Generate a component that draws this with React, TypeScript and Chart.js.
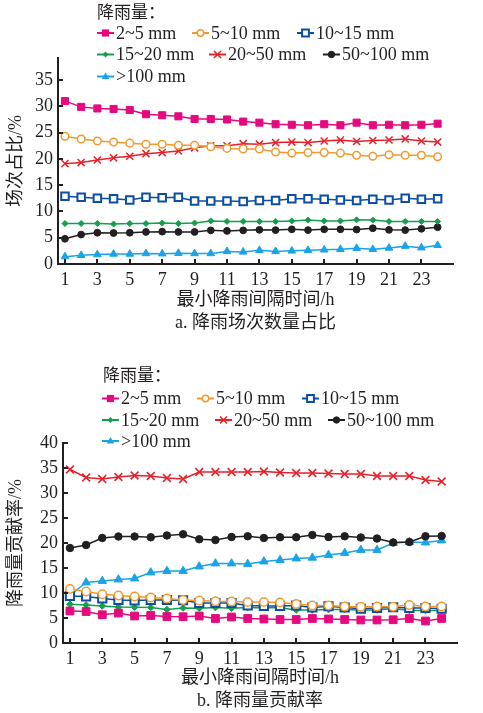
import React, { useEffect, useRef } from "react";
import { Chart, registerables } from "chart.js";

Chart.register(...registerables);

// ---------- data ----------
const intervals = [1, 2, 3, 4, 5, 6, 7, 8, 9, 10, 11, 12, 13, 14, 15, 16, 17, 18, 19, 20, 21, 22, 23, 24];
const xTickLabels = [1, 3, 5, 7, 9, 11, 13, 15, 17, 19, 21, 23];
const yTicksA = [0, 5, 10, 15, 20, 25, 30, 35];
const yTicksB = [0, 5, 10, 15, 20, 25, 30, 35, 40];

const seriesNames = ["2~5 mm", "5~10 mm", "10~15 mm", "15~20 mm", "20~50 mm", "50~100 mm", ">100 mm"];

// a. 降雨场次数量占比 (%)
const countShare_2_5 = [31.0, 29.9, 29.6, 29.5, 29.3, 28.5, 28.3, 28.1, 27.6, 27.6, 27.5, 27.1, 26.9, 26.6, 26.5, 26.4, 26.6, 26.4, 26.9, 26.4, 26.5, 26.4, 26.5, 26.7];
const countShare_5_10 = [24.3, 23.8, 23.4, 23.2, 23.0, 22.8, 22.8, 22.6, 22.6, 22.3, 22.0, 21.9, 21.9, 21.3, 21.1, 21.2, 21.2, 21.1, 20.7, 20.5, 20.8, 20.7, 20.7, 20.4];
const countShare_10_15 = [12.9, 12.7, 12.5, 12.4, 12.2, 12.7, 12.6, 12.7, 12.0, 12.0, 12.0, 11.9, 12.1, 12.1, 12.4, 12.4, 12.3, 12.2, 12.1, 12.3, 12.2, 12.5, 12.3, 12.4];
const countShare_15_20 = [7.7, 7.7, 7.7, 7.6, 7.7, 7.7, 7.8, 7.7, 7.8, 8.2, 8.1, 8.1, 8.1, 8.1, 8.2, 8.35, 8.2, 8.2, 8.4, 8.35, 8.1, 8.1, 8.1, 8.1];
const countShare_20_50 = [19.1, 19.3, 19.8, 20.2, 20.5, 21.0, 21.2, 21.5, 22.1, 22.5, 22.5, 22.9, 22.8, 23.1, 23.2, 23.1, 23.4, 23.6, 23.3, 23.5, 23.6, 23.8, 23.4, 23.2];
const countShare_50_100 = [4.8, 5.6, 5.95, 5.9, 5.95, 6.1, 6.15, 6.1, 6.1, 6.4, 6.3, 6.4, 6.5, 6.45, 6.6, 6.45, 6.6, 6.6, 6.55, 6.8, 6.5, 6.45, 6.7, 7.0];
const countShare_100 = [1.4, 1.65, 1.8, 1.9, 1.9, 2.0, 1.95, 2.05, 2.0, 2.0, 2.4, 2.3, 2.6, 2.4, 2.5, 2.6, 2.7, 2.8, 3.0, 2.8, 3.05, 3.4, 3.1, 3.55];

// b. 降雨量贡献率 (%)
const contrib_2_5 = [6.4, 6.3, 5.65, 6.0, 5.4, 5.5, 5.3, 5.25, 5.4, 4.9, 5.2, 4.9, 4.8, 4.7, 4.7, 4.9, 4.8, 4.7, 4.6, 4.6, 4.65, 4.9, 4.4, 4.9];
const contrib_5_10 = [10.8, 10.3, 9.75, 9.5, 9.3, 9.1, 8.9, 8.6, 8.5, 8.35, 8.3, 8.2, 8.2, 8.1, 7.8, 7.5, 7.5, 7.3, 7.25, 7.3, 7.25, 7.6, 7.3, 7.3];
const contrib_10_15 = [9.4, 9.3, 8.9, 8.6, 8.5, 8.6, 8.6, 8.55, 8.0, 8.0, 8.0, 7.5, 7.4, 7.4, 7.5, 7.1, 7.35, 7.1, 6.85, 7.0, 7.15, 7.0, 7.0, 6.85];
const contrib_15_20 = [7.75, 7.6, 7.4, 7.2, 7.15, 7.1, 6.7, 7.0, 6.95, 7.1, 6.95, 7.1, 7.05, 7.05, 6.6, 6.6, 6.7, 6.7, 6.6, 6.6, 6.9, 6.5, 6.5, 6.5];
const contrib_20_50 = [34.7, 33.1, 32.8, 33.2, 33.5, 33.4, 33.0, 32.8, 34.2, 34.2, 34.2, 34.2, 34.3, 34.1, 34.0, 34.0, 33.9, 33.8, 33.8, 33.4, 33.4, 33.4, 32.6, 32.3];
const contrib_50_100 = [19.0, 19.6, 21.0, 21.3, 21.3, 21.15, 21.5, 21.75, 20.75, 20.6, 21.2, 21.35, 21.0, 21.15, 21.15, 21.6, 21.2, 21.35, 21.1, 20.9, 20.1, 20.2, 21.35, 21.4];
const contrib_100 = [9.5, 12.1, 12.4, 12.7, 12.9, 14.1, 14.4, 14.4, 15.3, 15.9, 15.9, 15.8, 16.3, 16.6, 16.9, 17.05, 17.6, 18.0, 18.6, 18.6, 20.0, 20.2, 20.1, 20.5];

// ---------- styles ----------
const AXIS_COLOR = "#231f20";
const SERIF = "'Liberation Serif', 'Times New Roman', serif";
const MIXED = "'Liberation Serif', 'Noto Sans CJK SC', sans-serif";

type SStyle = { color: string; pointStyle: string; radius: number; fill: boolean; pbw: number };
const SERIES_STYLE: SStyle[] = [
  { color: "#e5097f", pointStyle: "rect", radius: 5, fill: true, pbw: 1 },
  { color: "#f39a2e", pointStyle: "circle", radius: 3.8, fill: false, pbw: 1.5 },
  { color: "#0b4ea2", pointStyle: "rect", radius: 5.3, fill: false, pbw: 2 },
  { color: "#12a04b", pointStyle: "rectRot", radius: 3, fill: true, pbw: 1 },
  { color: "#e62129", pointStyle: "crossRot", radius: 5, fill: false, pbw: 1.5 },
  { color: "#231f20", pointStyle: "circle", radius: 3.4, fill: true, pbw: 1 },
  { color: "#1aa3e8", pointStyle: "triangle", radius: 4.4, fill: true, pbw: 1 },
];

function drawLegendMarker(ctx: CanvasRenderingContext2D, s: SStyle, cx: number, cy: number) {
  ctx.save();
  ctx.strokeStyle = s.color;
  ctx.fillStyle = s.fill ? s.color : "#ffffff";
  ctx.lineWidth = s.pbw;
  ctx.beginPath();
  if (s.pointStyle === "rect") {
    const h = s.fill ? 3.6 : 3.4;
    ctx.rect(cx - h, cy - h, 2 * h, 2 * h);
    ctx.fill();
    if (!s.fill) ctx.stroke();
  } else if (s.pointStyle === "circle") {
    ctx.arc(cx, cy, s.fill ? 3.2 : 3.2, 0, Math.PI * 2);
    ctx.fill();
    ctx.stroke();
  } else if (s.pointStyle === "rectRot") {
    const r = 3;
    ctx.moveTo(cx, cy - r);
    ctx.lineTo(cx + r, cy);
    ctx.lineTo(cx, cy + r);
    ctx.lineTo(cx - r, cy);
    ctx.closePath();
    ctx.fill();
  } else if (s.pointStyle === "crossRot") {
    const r = 3.5;
    ctx.moveTo(cx - r, cy - r);
    ctx.lineTo(cx + r, cy + r);
    ctx.moveTo(cx + r, cy - r);
    ctx.lineTo(cx - r, cy + r);
    ctx.stroke();
  } else if (s.pointStyle === "triangle") {
    const r = 4;
    ctx.moveTo(cx, cy - r);
    ctx.lineTo(cx + r * 0.95, cy + r * 0.6);
    ctx.lineTo(cx - r * 0.95, cy + r * 0.6);
    ctx.closePath();
    ctx.fill();
  }
  ctx.restore();
}

type LegendLayout = { title: { x: number; y: number }; items: { x: number; y: number }[] };

function makeLegendPlugin(layout: LegendLayout) {
  return {
    id: "customLegend",
    afterDraw(chart: any) {
      const ctx: CanvasRenderingContext2D = chart.ctx;
      ctx.save();
      ctx.fillStyle = AXIS_COLOR;
      ctx.textBaseline = "middle";
      ctx.textAlign = "left";
      ctx.font = "17px 'Noto Sans CJK SC', sans-serif";
      ctx.fillText("降雨量：", layout.title.x, layout.title.y);
      ctx.font = "18px " + SERIF;
      layout.items.forEach((it, i) => {
        const s = SERIES_STYLE[i];
        ctx.save();
        ctx.strokeStyle = s.color;
        ctx.lineWidth = 2;
        ctx.beginPath();
        ctx.moveTo(it.x, it.y);
        ctx.lineTo(it.x + 17, it.y);
        ctx.stroke();
        ctx.restore();
        drawLegendMarker(ctx, s, it.x + 8.5, it.y);
        ctx.fillStyle = AXIS_COLOR;
        ctx.fillText(seriesNames[i], it.x + 19, it.y + 1);
      });
      ctx.restore();
    },
  };
}

const inwardTicks = {
  id: "inwardTicks",
  afterDatasetsDraw(chart: any) {
    const { ctx, chartArea, scales } = chart;
    const x = scales.x;
    const y = scales.y;
    ctx.save();
    ctx.strokeStyle = AXIS_COLOR;
    ctx.lineWidth = 2;
    ctx.beginPath();
    x.ticks.forEach((t: any) => {
      const px = Math.round(x.getPixelForValue(t.value));
      ctx.moveTo(px, chartArea.bottom);
      ctx.lineTo(px, chartArea.bottom - 5);
    });
    y.ticks.forEach((t: any) => {
      const py = Math.round(y.getPixelForValue(t.value));
      ctx.moveTo(chartArea.left, py);
      ctx.lineTo(chartArea.left + 5, py);
    });
    ctx.stroke();
    ctx.restore();
  },
};

type PanelCfg = {
  top: number;
  height: number;
  padTop: number;
  padRight: number;
  yWidth: number;
  xHeight: number;
  yMax: number;
  yTicks: number[];
  yTitle: string;
  caption: string;
  xTitleBottomPad: number;
  yTitlePad: number;
  markerScale: number;
  series: number[][];
  legend: LegendLayout;
};

function buildConfig(p: PanelCfg): any {
  const datasets = p.series.map((vals, i) => {
    const s = SERIES_STYLE[i];
    return {
      label: seriesNames[i],
      data: vals.map((v, j) => ({ x: intervals[j], y: v })),
      borderColor: s.color,
      backgroundColor: s.fill ? s.color : "#ffffff",
      pointBackgroundColor: s.fill ? s.color : "#ffffff",
      pointBorderColor: s.color,
      pointBorderWidth: s.pbw,
      pointStyle: s.pointStyle,
      pointRadius: s.radius * p.markerScale,
      pointHoverRadius: s.radius * p.markerScale,
      borderWidth: 1.5,
      tension: 0,
      fill: false,
    };
  });
  return {
    type: "line",
    data: { datasets },
    options: {
      animation: false,
      responsive: false,
      devicePixelRatio: 1,
      layout: { padding: { top: p.padTop, right: p.padRight, left: 0, bottom: 0 } },
      plugins: {
        legend: { display: false },
        tooltip: { enabled: false },
        title: { display: false },
      },
      scales: {
        x: {
          type: "linear",
          min: 0.57,
          max: 24.95,
          grid: { display: false, drawTicks: false },
          border: { display: true, width: 2, color: AXIS_COLOR },
          ticks: {
            padding: 5,
            color: AXIS_COLOR,
            font: { family: SERIF, size: 18 },
            autoSkip: false,
            maxRotation: 0,
          },
          afterBuildTicks: (s: any) => {
            s.ticks = xTickLabels.map((v) => ({ value: v }));
          },
          afterFit: (s: any) => {
            s.height = p.xHeight;
          },
          title: {
            display: true,
            text: ["最小降雨间隔时间/h", p.caption],
            color: AXIS_COLOR,
            font: { family: MIXED, size: 18, lineHeight: 23 / 18 },
            padding: { top: 0, bottom: p.xTitleBottomPad },
          },
        },
        y: {
          type: "linear",
          min: 0,
          max: p.yMax,
          grid: { display: false, drawTicks: false },
          border: { display: true, width: 2, color: AXIS_COLOR },
          ticks: {
            padding: 5,
            color: AXIS_COLOR,
            font: { family: SERIF, size: 18 },
          },
          afterBuildTicks: (s: any) => {
            s.ticks = p.yTicks.map((v) => ({ value: v }));
          },
          afterFit: (s: any) => {
            s.width = p.yWidth;
          },
          title: {
            display: true,
            text: p.yTitle,
            color: AXIS_COLOR,
            font: { family: MIXED, size: 18, lineHeight: 1.2 },
            padding: { top: p.yTitlePad, bottom: 0 },
          },
        },
      },
    },
    plugins: [inwardTicks, makeLegendPlugin(p.legend)],
  };
}

const panelA: PanelCfg = {
  top: 0,
  height: 340,
  padTop: 58,
  padRight: 30,
  yWidth: 58,
  xHeight: 76,
  yMax: 39.2,
  yTicks: yTicksA,
  yTitle: "场次占比/%",
  caption: "a. 降雨场次数量占比",
  xTitleBottomPad: 5.5,
  yTitlePad: 5,
  markerScale: 1,
  series: [countShare_2_5, countShare_5_10, countShare_10_15, countShare_15_20, countShare_20_50, countShare_50_100, countShare_100],
  legend: {
    title: { x: 97, y: 12 },
    items: [
      { x: 97, y: 33 },
      { x: 192, y: 33 },
      { x: 297, y: 33 },
      { x: 97, y: 54.5 },
      { x: 209, y: 54.5 },
      { x: 323, y: 54.5 },
      { x: 97, y: 76.5 },
    ],
  },
};

const panelB: PanelCfg = {
  top: 340,
  height: 373,
  padTop: 103,
  padRight: 26,
  yWidth: 63,
  xHeight: 70,
  yMax: 40,
  yTicks: yTicksB,
  yTitle: "降雨量贡献率/%",
  caption: "b. 降雨量贡献率",
  xTitleBottomPad: 0,
  yTitlePad: 5,
  markerScale: 1.1,
  series: [contrib_2_5, contrib_5_10, contrib_10_15, contrib_15_20, contrib_20_50, contrib_50_100, contrib_100],
  legend: {
    title: { x: 103, y: 35 },
    items: [
      { x: 102, y: 58.5 },
      { x: 197, y: 58.5 },
      { x: 302, y: 58.5 },
      { x: 102, y: 80 },
      { x: 215, y: 80 },
      { x: 328, y: 80 },
      { x: 102, y: 101 },
    ],
  },
};

function Panel({ cfg }: { cfg: PanelCfg }) {
  const ref = useRef<HTMLCanvasElement>(null);
  useEffect(() => {
    if (!ref.current) return;
    const chart = new Chart(ref.current, buildConfig(cfg));
    return () => chart.destroy();
  }, [cfg]);
  return (
    <canvas
      ref={ref}
      width={483}
      height={cfg.height}
      style={{ position: "absolute", left: 0, top: cfg.top, width: 483, height: cfg.height, display: "block" }}
    />
  );
}

export default function App() {
  return (
    <div style={{ position: "absolute", left: 0, top: 0, width: 483, height: 713, background: "#ffffff", overflow: "hidden" }}>
      <Panel cfg={panelA} />
      <Panel cfg={panelB} />
    </div>
  );
}
